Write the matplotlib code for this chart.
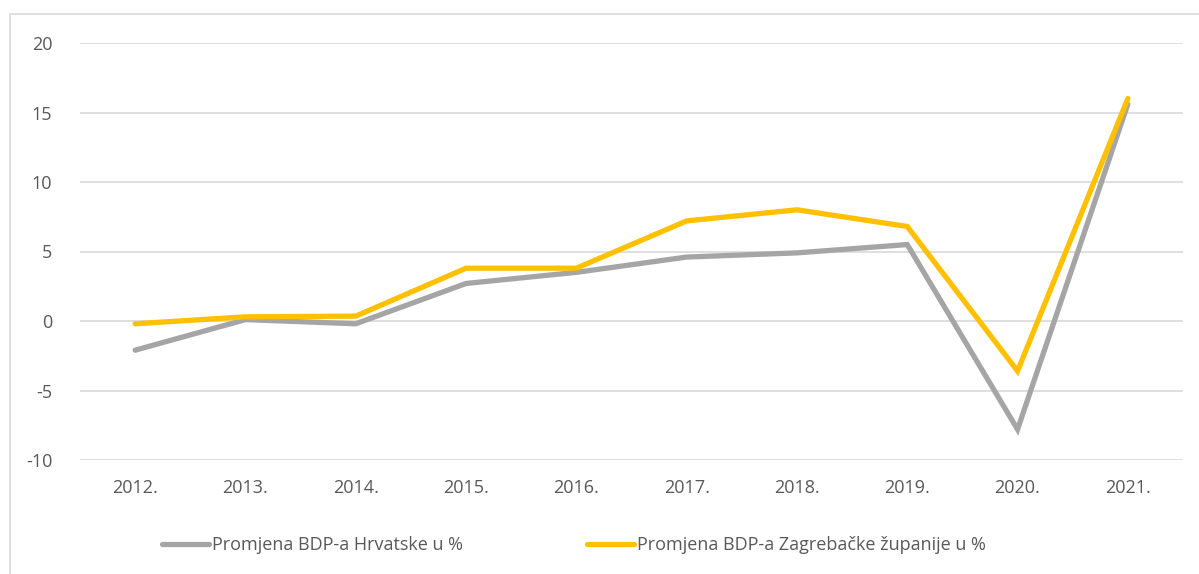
import matplotlib
matplotlib.use("Agg")
import matplotlib.pyplot as plt
from matplotlib.patches import Rectangle

years = ["2012.", "2013.", "2014.", "2015.", "2016.", "2017.", "2018.", "2019.", "2020.", "2021."]
hrvatska = [-2.1, 0.1, -0.2, 2.7, 3.5, 4.6, 4.9, 5.5, -7.8, 15.6]
zagrebacka = [-0.2, 0.3, 0.35, 3.8, 3.8, 7.2, 8.0, 6.8, -3.6, 16.0]
yticks = [-10, -5, 0, 5, 10, 15, 20]
label_hr = "Promjena BDP-a Hrvatske u %"
label_zg = "Promjena BDP-a Zagrebačke županije u %"

plt.rcParams['font.family'] = ['Open Sans', 'DejaVu Sans']
txt = "#595959"

fig = plt.figure(figsize=(11.99, 5.74), dpi=100)
ax = fig.add_axes([80/1199, 1-460/574, (1183-80)/1199, (460-43)/574])

x = list(range(len(years)))
ax.plot(x, hrvatska, color="#A5A5A5", lw=3.8, solid_capstyle="round", solid_joinstyle="miter", label=label_hr, zorder=3)
ax.plot(x, zagrebacka, color="#FFC000", lw=3.8, solid_capstyle="round", solid_joinstyle="miter", label=label_zg, zorder=4)

ax.set_xlim(-0.5, len(years) - 0.5)
ax.set_ylim(-10, 20)
ax.set_yticks(yticks)
ax.set_yticklabels([str(v) for v in yticks])
ax.set_xticks(x)
ax.set_xticklabels(years)
ax.tick_params(axis="both", length=0, labelsize=13, labelcolor=txt)
ax.tick_params(axis="y", pad=20)
ax.tick_params(axis="x", pad=14)
ax.grid(axis="y", color="#D9D9D9", lw=1.2)
ax.set_axisbelow(True)
for s in ax.spines.values():
    s.set_visible(False)

leg = fig.legend(loc="center", bbox_to_anchor=(574/1199, 1-545/574), ncol=2, frameon=False,
                 fontsize=13, handlelength=2.6, handletextpad=0.15, columnspacing=6.9)
for t in leg.get_texts():
    t.set_color(txt)

fig.add_artist(Rectangle((9.5/1199, -0.1), 1.2, 1.1 - 13.5/574 + 0.0,
                         transform=fig.transFigure, fill=False, edgecolor="#D9D9D9", lw=1.2, clip_on=False))

fig.savefig("out.png", dpi=100)
